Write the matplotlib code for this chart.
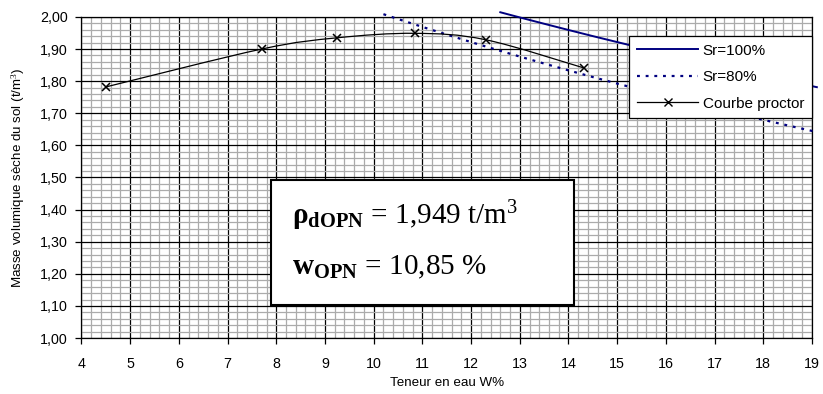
import numpy as np
import matplotlib
matplotlib.use("Agg")
import matplotlib.pyplot as plt
from matplotlib.path import Path
from matplotlib.patches import PathPatch, Rectangle
from matplotlib.lines import Line2D
from matplotlib.ticker import MultipleLocator, FuncFormatter

plt.rcParams['font.family'] = ['Liberation Sans', 'DejaVu Sans']
plt.rcParams['mathtext.fontset'] = 'custom'
plt.rcParams['mathtext.rm'] = 'Liberation Serif'
plt.rcParams['mathtext.bf'] = 'Liberation Serif:bold'
plt.rcParams['mathtext.it'] = 'Liberation Serif:italic'

# Proctor test points
w_proctor = [4.5, 7.7, 9.25, 10.85, 12.3, 14.32]
rho_proctor = [1.782, 1.900, 1.935, 1.949, 1.929, 1.841]

# Saturation curve Sr=100%
w_sr100 = [12.6, 13.0, 13.5, 14.0, 14.5, 15.0, 15.5, 16.0, 16.5, 17.0, 17.5, 18.0, 18.5, 19.0, 19.1]
rho_sr100 = [2.0146, 1.9985, 1.9788, 1.9594, 1.9403, 1.9217, 1.9034, 1.8855, 1.8679,
             1.8506, 1.8336, 1.8170, 1.8006, 1.7845, 1.7813]

# Saturation curve Sr=80%
w_sr80 = [10.2, 10.5, 11.0, 11.5, 12.0, 12.5, 13.0, 13.5, 14.0, 14.5, 15.0, 15.5, 16.0,
          16.5, 17.0, 17.5, 18.0, 18.5, 19.0, 19.1]
rho_sr80 = [2.0086, 1.9935, 1.9690, 1.9451, 1.9217, 1.8989, 1.8766, 1.8549, 1.8336,
            1.8128, 1.7925, 1.7727, 1.7532, 1.7342, 1.7156, 1.6974, 1.6796, 1.6622,
            1.6451, 1.6417]

labels = ["Sr=100%", "Sr=80%", "Courbe proctor"]

fig = plt.figure(figsize=(8.23, 3.94), dpi=100)
ax = fig.add_axes([0.099, 0.142, 0.8876, 0.815])
ax.set_xlim(4, 19)
ax.set_ylim(1.0, 2.0)

ax.xaxis.set_major_locator(MultipleLocator(1))
ax.xaxis.set_minor_locator(MultipleLocator(0.2))
ax.yaxis.set_major_locator(MultipleLocator(0.1))
ax.yaxis.set_minor_locator(MultipleLocator(0.02))
ax.yaxis.set_major_formatter(FuncFormatter(lambda v, p: f"{v:.2f}".replace('.', ',')))
ax.xaxis.set_major_formatter(FuncFormatter(lambda v, p: f"{v:.0f}"))

ax.grid(which='minor', color='#ababab', linewidth=0.9)
ax.grid(which='major', color='black', linewidth=0.9)
ax.set_axisbelow(True)
ax.tick_params(which='minor', length=0)
ax.tick_params(which='major', direction='out', length=4, width=0.9, labelsize=10.3)
ax.tick_params(axis='y', pad=6)
ax.tick_params(axis='x', pad=10)
for s in ax.spines.values():
    s.set_linewidth(0.9)

# Saturation curves
ax.plot(w_sr100, rho_sr100, color='#000080', linewidth=1.4, clip_on=False, zorder=3)
ax.plot(w_sr80, rho_sr80, color='#000080', linewidth=1.6, linestyle=(0, (1.3, 2.6)),
        clip_on=False, zorder=3)

# Proctor curve: smoothed (Catmull-Rom bezier) through points
P = np.column_stack([w_proctor, rho_proctor])
verts = [tuple(P[0])]
codes = [Path.MOVETO]
n = len(P)
for i in range(n - 1):
    p0 = P[i - 1] if i > 0 else P[i]
    p1 = P[i]
    p2 = P[i + 1]
    p3 = P[i + 2] if i + 2 < n else P[i + 1]
    c1 = p1 + (p2 - p0) / 6.0
    c2 = p2 - (p3 - p1) / 6.0
    verts += [tuple(c1), tuple(c2), tuple(p2)]
    codes += [Path.CURVE4, Path.CURVE4, Path.CURVE4]
patch = PathPatch(Path(verts, codes), facecolor='none', edgecolor='black', linewidth=0.9,
                  transform=ax.transData, zorder=4)
ax.add_patch(patch)
ax.plot(w_proctor, rho_proctor, linestyle='none', marker='x', color='black',
        markersize=6, markeredgewidth=1.1, zorder=5)

ax.set_xlabel("Teneur en eau W%", fontsize=9.6, labelpad=4)
ax.set_ylabel("Masse volumique sèche du sol (t/m$^3$)", fontsize=9.6, labelpad=9)

# Legend
handles = [
    Line2D([], [], color='#000080', linewidth=1.4),
    Line2D([], [], color='#000080', linewidth=1.6, linestyle=(0, (1.3, 2.6))),
    Line2D([], [], color='black', linewidth=0.9, marker='x', markersize=6),
]
leg = ax.legend(handles, labels, loc='upper right', bbox_to_anchor=(1.0, 0.941),
                borderaxespad=0, fontsize=11, handlelength=4.0, labelspacing=0.82,
                fancybox=False, framealpha=1, edgecolor='black', borderpad=0.5,
                handletextpad=0.3)
leg.get_frame().set_linewidth(0.9)
leg.set_zorder(10)

# Result box
rect = Rectangle((0.260, 0.103), 0.414, 0.389, transform=ax.transAxes, facecolor='white',
                 edgecolor='black', linewidth=1.5, zorder=8)
ax.add_patch(rect)
ax.text(0.288, 0.355, r"$\mathbf{ρ}_{\mathbf{dOPN}}\mathrm{\,=\,1{,}949\ t/m^{3}}$",
        transform=ax.transAxes, fontsize=21, zorder=9, va='baseline')
ax.text(0.288, 0.199, r"$\mathbf{w}_{\mathbf{OPN}}\mathrm{\,=\,10{,}85\ \%}$",
        transform=ax.transAxes, fontsize=21, zorder=9, va='baseline')

fig.savefig("out.png", dpi=100)
